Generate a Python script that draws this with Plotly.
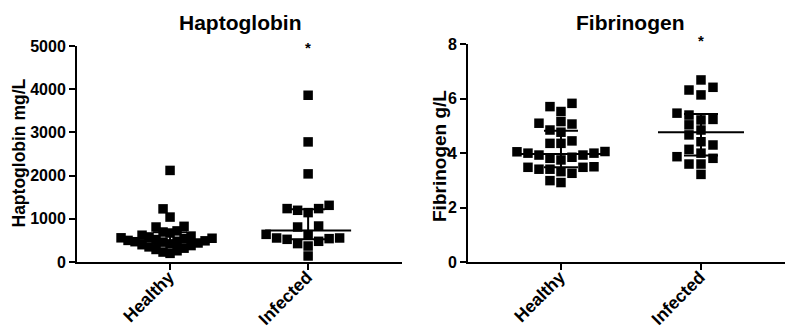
import numpy as np
import plotly.graph_objects as go

# ---------------- data ----------------
groups = ["Healthy", "Infected"]

hapto_healthy = [2120, 1230, 1040, 826, 810, 720, 694, 671, 620, 600, 580, 560, 550, 540,
                 520, 500, 490, 480, 470, 460, 440, 420, 400, 380, 350, 320, 290, 260, 230, 200]
hapto_infected = [3860, 2780, 2040, 1312, 1236, 1236, 1197, 1143, 833, 810, 640, 634,
                  556, 556, 541, 525, 479, 426, 370, 139]
hapto_median = [486, 730]
hapto_q1 = [403, 525]
hapto_q3 = [688, 1220]

fib_healthy = [5.83, 5.53, 5.71, 5.10, 5.07, 5.16, 4.85, 4.77, 4.45, 4.36, 4.36, 3.93, 3.85,
               3.75, 4.06, 4.00, 4.00, 4.05, 3.81, 3.93, 3.41, 3.26, 3.48, 3.48, 3.50, 3.32,
               3.41, 2.92, 2.99]
fib_infected = [6.69, 6.32, 6.42, 6.14, 5.40, 5.24, 5.47, 5.22, 5.04, 4.85, 4.67, 4.42,
                4.30, 4.14, 4.00, 3.87, 3.81, 3.60, 3.60, 3.22]
fib_median = [3.97, 4.77]
fib_q1 = [3.48, 3.91]
fib_q3 = [4.82, 5.44]

hapto_ticks = [0, 1000, 2000, 3000, 4000, 5000]
fib_ticks = [0, 2, 4, 6, 8]

# ---------------- layout geometry ----------------
W, H = 785, 328
FONT = "Arial, Liberation Sans, sans-serif"

L_X = (77, 402)      # px
R_X = (468, 785)
L_XR = (-0.674, 1.68)
R_XR = (-0.664, 1.60)
L_Y = (262, 46)      # px for 0 and top
R_Y = (262, 44.3)
L_YR = (0, 5000)
R_YR = (0, 8)


def dom_x(p):
    return [p[0] / W, p[1] / W]


def dom_y(p):
    return [1 - p[0] / H, 1 - p[1] / H]


def beeswarm(values, px_per_unit, px_per_cat, dx, dy):
    vals = np.asarray(values, dtype=float)
    order = np.argsort(vals, kind="stable")
    placed = []
    offs = np.zeros(len(vals))
    for i in order:
        y = vals[i] * px_per_unit
        near = [px for py, px in placed if abs(py - y) < dy]
        cands = [0.0] + [px + s * dx for px in near for s in (-1, 1)]
        cands.sort(key=lambda c: (abs(c), c))
        chosen = 0.0
        for c in cands:
            if all(abs(c - px) >= dx - 1e-9 for px in near):
                chosen = c
                break
        offs[i] = chosen / px_per_cat
        placed.append((y, chosen))
    return offs


fig = go.Figure()

panels = [
    dict(xa="x", ya="y", xd=L_X, xr=L_XR, yd=L_Y, yr=L_YR,
         data=[hapto_healthy, hapto_infected], med=hapto_median, q1=hapto_q1, q3=hapto_q3,
         spacing=[7, 10.5]),
    dict(xa="x2", ya="y2", xd=R_X, xr=R_XR, yd=R_Y, yr=R_YR,
         data=[fib_healthy, fib_infected], med=fib_median, q1=fib_q1, q3=fib_q3,
         spacing=[11, 12]),
]

for p in panels:
    px_per_cat = (p["xd"][1] - p["xd"][0]) / (p["xr"][1] - p["xr"][0])
    px_per_unit = (p["yd"][0] - p["yd"][1]) / (p["yr"][1] - p["yr"][0])
    for gi, vals in enumerate(p["data"]):
        offs = beeswarm(vals, px_per_unit, px_per_cat, p["spacing"][gi], 9.5)
        fig.add_trace(go.Scatter(
            x=gi + offs, y=vals, mode="markers", xaxis=p["xa"], yaxis=p["ya"],
            marker=dict(symbol="square", size=9.5, color="black", line=dict(width=0)),
            showlegend=False, hoverinfo="y", cliponaxis=False))
    half_med = 43 / px_per_cat
    half_cap = 17 / px_per_cat
    for gi in range(2):
        xs = [gi - half_med, gi + half_med, None,
              gi, gi, None,
              gi - half_cap, gi + half_cap, None,
              gi - half_cap, gi + half_cap]
        ys = [p["med"][gi], p["med"][gi], None,
              p["q1"][gi], p["q3"][gi], None,
              p["q1"][gi], p["q1"][gi], None,
              p["q3"][gi], p["q3"][gi]]
        fig.add_trace(go.Scatter(
            x=xs, y=ys, mode="lines", xaxis=p["xa"], yaxis=p["ya"],
            line=dict(color="black", width=2), showlegend=False, hoverinfo="skip",
            cliponaxis=False))

axis_common = dict(showgrid=False, zeroline=False, showline=True, linecolor="black",
                   linewidth=2, ticks="outside", ticklen=6, tickwidth=2, tickcolor="black",
                   automargin=False)
ytick_font = dict(family=FONT, size=16, color="black", weight="bold")
xtick_font = dict(family=FONT, size=17.5, color="black", weight="bold")

fig.update_layout(
    template="none",
    width=W, height=H, margin=dict(l=0, r=0, t=0, b=0, pad=0),
    paper_bgcolor="white", plot_bgcolor="white", showlegend=False,
    xaxis=dict(domain=dom_x(L_X), range=list(L_XR), tickvals=[0, 1], ticktext=groups,
               tickangle=-45, anchor="y", tickfont=xtick_font, ticklabelshift=-1,
               ticklabelstandoff=-10, **axis_common),
    yaxis=dict(domain=dom_y(L_Y), range=list(L_YR), tickvals=hapto_ticks, anchor="x",
               tickfont=ytick_font, **axis_common),
    xaxis2=dict(domain=dom_x(R_X), range=list(R_XR), tickvals=[0, 1], ticktext=groups,
                tickangle=-45, anchor="y2", tickfont=xtick_font, ticklabelshift=-1,
                ticklabelstandoff=-10, **axis_common),
    yaxis2=dict(domain=dom_y(R_Y), range=list(R_YR), tickvals=fib_ticks, anchor="x2",
                tickfont=ytick_font, **axis_common),
)

ann = [
    dict(text="Haptoglobin", x=240 / W, y=1 - 22 / H, xref="paper", yref="paper",
         xanchor="center", yanchor="middle", showarrow=False,
         font=dict(family=FONT, size=21, color="black", weight="bold")),
    dict(text="Fibrinogen", x=630 / W, y=1 - 22 / H, xref="paper", yref="paper",
         xanchor="center", yanchor="middle", showarrow=False,
         font=dict(family=FONT, size=21, color="black", weight="bold")),
    dict(text="Haptoglobin mg/L", x=18.5 / W, y=1 - 153 / H, xref="paper", yref="paper",
         xanchor="center", yanchor="middle", textangle=-90, showarrow=False,
         font=dict(family=FONT, size=17.5, color="black", weight="bold")),
    dict(text="Fibrinogen g/L", x=439 / W, y=1 - 156 / H, xref="paper", yref="paper",
         xanchor="center", yanchor="middle", textangle=-90, showarrow=False,
         font=dict(family=FONT, size=19, color="black", weight="bold")),
    dict(text="*", x=1, y=5000, xref="x", yref="y", showarrow=False, yshift=-1,
         xanchor="center", yanchor="middle",
         font=dict(family=FONT, size=15, color="black", weight="bold")),
    dict(text="*", x=1, y=8, xref="x2", yref="y2", showarrow=False, yshift=4,
         xanchor="center", yanchor="middle",
         font=dict(family=FONT, size=15, color="black", weight="bold")),
]
fig.update_layout(annotations=ann)

fig.write_html("out.html", config={"displayModeBar": False},
               post_script="document.body.style.margin='0';")
